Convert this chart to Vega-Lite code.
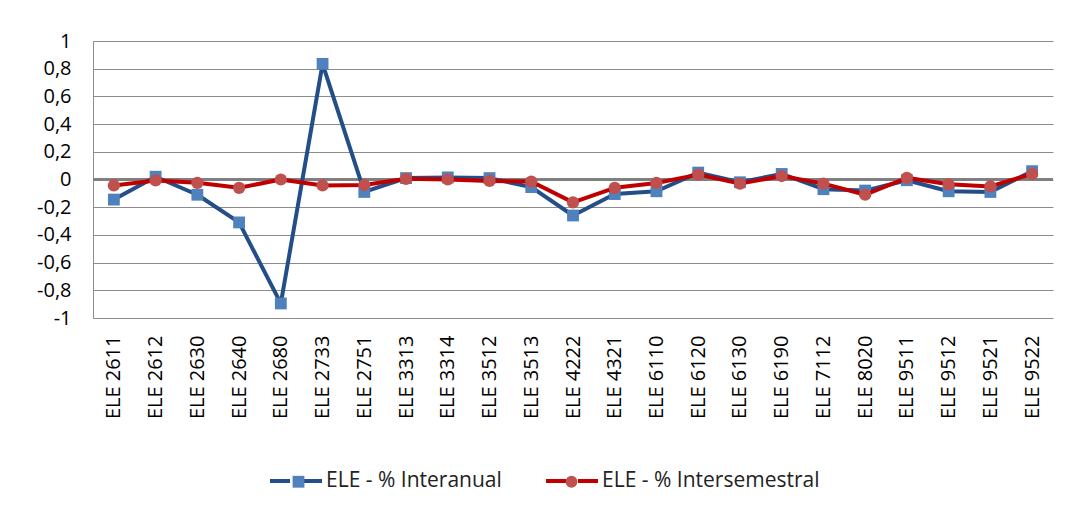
{
  "$schema": "https://vega.github.io/schema/vega-lite/v6.json",
  "autosize": {"type": "none"},
  "padding": {"left": 93, "top": 41, "right": 12, "bottom": 188},
  "width": 960,
  "height": 277,
  "background": "white",
  "data": {"values": [
    {"cat": "ELE 2611", "series": "ELE - % Interanual", "value": -0.145},
    {"cat": "ELE 2612", "series": "ELE - % Interanual", "value": 0.02},
    {"cat": "ELE 2630", "series": "ELE - % Interanual", "value": -0.11},
    {"cat": "ELE 2640", "series": "ELE - % Interanual", "value": -0.31},
    {"cat": "ELE 2680", "series": "ELE - % Interanual", "value": -0.895},
    {"cat": "ELE 2733", "series": "ELE - % Interanual", "value": 0.835},
    {"cat": "ELE 2751", "series": "ELE - % Interanual", "value": -0.09},
    {"cat": "ELE 3313", "series": "ELE - % Interanual", "value": 0.01},
    {"cat": "ELE 3314", "series": "ELE - % Interanual", "value": 0.015},
    {"cat": "ELE 3512", "series": "ELE - % Interanual", "value": 0.01},
    {"cat": "ELE 3513", "series": "ELE - % Interanual", "value": -0.055},
    {"cat": "ELE 4222", "series": "ELE - % Interanual", "value": -0.26},
    {"cat": "ELE 4321", "series": "ELE - % Interanual", "value": -0.105},
    {"cat": "ELE 6110", "series": "ELE - % Interanual", "value": -0.085},
    {"cat": "ELE 6120", "series": "ELE - % Interanual", "value": 0.05},
    {"cat": "ELE 6130", "series": "ELE - % Interanual", "value": -0.02},
    {"cat": "ELE 6190", "series": "ELE - % Interanual", "value": 0.04},
    {"cat": "ELE 7112", "series": "ELE - % Interanual", "value": -0.07},
    {"cat": "ELE 8020", "series": "ELE - % Interanual", "value": -0.08},
    {"cat": "ELE 9511", "series": "ELE - % Interanual", "value": -0.005},
    {"cat": "ELE 9512", "series": "ELE - % Interanual", "value": -0.085},
    {"cat": "ELE 9521", "series": "ELE - % Interanual", "value": -0.09},
    {"cat": "ELE 9522", "series": "ELE - % Interanual", "value": 0.06},
    {"cat": "ELE 2611", "series": "ELE - % Intersemestral", "value": -0.043},
    {"cat": "ELE 2612", "series": "ELE - % Intersemestral", "value": -0.007},
    {"cat": "ELE 2630", "series": "ELE - % Intersemestral", "value": -0.024},
    {"cat": "ELE 2640", "series": "ELE - % Intersemestral", "value": -0.06},
    {"cat": "ELE 2680", "series": "ELE - % Intersemestral", "value": 0.0},
    {"cat": "ELE 2733", "series": "ELE - % Intersemestral", "value": -0.043},
    {"cat": "ELE 2751", "series": "ELE - % Intersemestral", "value": -0.04},
    {"cat": "ELE 3313", "series": "ELE - % Intersemestral", "value": 0.005},
    {"cat": "ELE 3314", "series": "ELE - % Intersemestral", "value": 0.0},
    {"cat": "ELE 3512", "series": "ELE - % Intersemestral", "value": -0.01},
    {"cat": "ELE 3513", "series": "ELE - % Intersemestral", "value": -0.015},
    {"cat": "ELE 4222", "series": "ELE - % Intersemestral", "value": -0.165},
    {"cat": "ELE 4321", "series": "ELE - % Intersemestral", "value": -0.06},
    {"cat": "ELE 6110", "series": "ELE - % Intersemestral", "value": -0.025},
    {"cat": "ELE 6120", "series": "ELE - % Intersemestral", "value": 0.035},
    {"cat": "ELE 6130", "series": "ELE - % Intersemestral", "value": -0.03},
    {"cat": "ELE 6190", "series": "ELE - % Intersemestral", "value": 0.025},
    {"cat": "ELE 7112", "series": "ELE - % Intersemestral", "value": -0.03},
    {"cat": "ELE 8020", "series": "ELE - % Intersemestral", "value": -0.11},
    {"cat": "ELE 9511", "series": "ELE - % Intersemestral", "value": 0.012},
    {"cat": "ELE 9512", "series": "ELE - % Intersemestral", "value": -0.035},
    {"cat": "ELE 9521", "series": "ELE - % Intersemestral", "value": -0.05},
    {"cat": "ELE 9522", "series": "ELE - % Intersemestral", "value": 0.04}
  ]},
  "encoding": {
    "x": {
      "field": "cat", "type": "nominal", "sort": null,
      "scale": {"type": "point", "padding": 0.5},
      "axis": {
        "title": null, "labelAngle": 270, "labelAlign": "right", "labelBaseline": "middle",
        "labelPadding": 17, "ticks": false, "domain": false, "grid": false,
        "labelFont": "Open Sans", "labelFontSize": 20, "labelColor": "#000000"
      }
    },
    "y": {
      "field": "value", "type": "quantitative",
      "scale": {"domain": [-1, 1], "nice": false, "zero": false},
      "axis": {
        "title": null, "values": [-1, -0.8, -0.6, -0.4, -0.2, 0, 0.2, 0.4, 0.6, 0.8, 1],
        "labelExpr": "replace(replace(format(datum.value, '.1~f'), '.', ','), '\u2212', '-')",
        "labelPadding": 22, "ticks": false, "domain": true, "domainColor": "#8c8c8c",
        "grid": true, "gridColor": "#8c8c8c", "gridWidth": 1,
        "labelFont": "Open Sans", "labelFontSize": 20, "labelColor": "#000000"
      }
    }
  },
  "layer": [
    {
      "mark": {"type": "rule", "color": "#7f7f7f", "strokeWidth": 1.5},
      "encoding": {"y": {"datum": 0}, "x": null}
    },
    {
      "transform": [{"filter": "datum.series === 'ELE - % Interanual'"}],
      "mark": {"type": "line", "strokeWidth": 4, "strokeJoin": "round"},
      "encoding": {
        "stroke": {
          "field": "series", "type": "nominal",
          "scale": {"domain": ["ELE - % Interanual", "ELE - % Intersemestral"], "range": ["#234E87", "#C00000"]},
          "legend": {
            "title": null, "orient": "none", "legendX": 175, "legendY": 412, "direction": "horizontal",
            "symbolType": "M-1,0H-0.23M0.23,0H1", "symbolSize": 2704, "symbolStrokeWidth": 4,
            "labelOffset": 2, "columnPadding": 36, "padding": 0, "labelLimit": 0,
            "labelFont": "Open Sans", "labelFontSize": 21, "labelColor": "#222222"
          }
        }
      }
    },
    {
      "transform": [{"filter": "datum.series === 'ELE - % Interanual'"}],
      "mark": {"type": "point", "filled": true, "opacity": 1, "size": 140, "strokeWidth": 0},
      "encoding": {
        "fill": {
          "field": "series", "type": "nominal",
          "scale": {"range": ["#4F81BD", "#C0504D"]},
          "legend": {
            "title": null, "orient": "none", "legendX": 195, "legendY": 430, "direction": "horizontal",
            "labelOffset": 0, "columnPadding": 252, "padding": 0, "labelExpr": "''",
            "symbolOpacity": 1, "symbolStrokeWidth": 0, "symbolSize": 140,
            "labelFont": "Open Sans", "labelFontSize": 21
          }
        },
        "shape": {
          "field": "series", "type": "nominal",
          "scale": {"range": ["square", "circle"]},
          "legend": {
            "title": null, "orient": "none", "legendX": 195, "legendY": 430, "direction": "horizontal",
            "labelOffset": 0, "columnPadding": 252, "padding": 0, "labelExpr": "''",
            "symbolOpacity": 1, "symbolStrokeWidth": 0, "symbolSize": 140,
            "labelFont": "Open Sans", "labelFontSize": 21
          }
        }
      }
    },
    {
      "transform": [{"filter": "datum.series === 'ELE - % Intersemestral'"}],
      "mark": {"type": "line", "strokeWidth": 4, "strokeJoin": "round"},
      "encoding": {
        "stroke": {
          "field": "series", "type": "nominal",
          "scale": {"domain": ["ELE - % Interanual", "ELE - % Intersemestral"], "range": ["#234E87", "#C00000"]}
        }
      }
    },
    {
      "transform": [{"filter": "datum.series === 'ELE - % Intersemestral'"}],
      "mark": {"type": "point", "filled": true, "opacity": 1, "size": 150, "strokeWidth": 0},
      "encoding": {
        "fill": {"field": "series", "type": "nominal"},
        "shape": {"field": "series", "type": "nominal"}
      }
    }
  ],
  "config": {
    "view": {"stroke": null}
  }
}
